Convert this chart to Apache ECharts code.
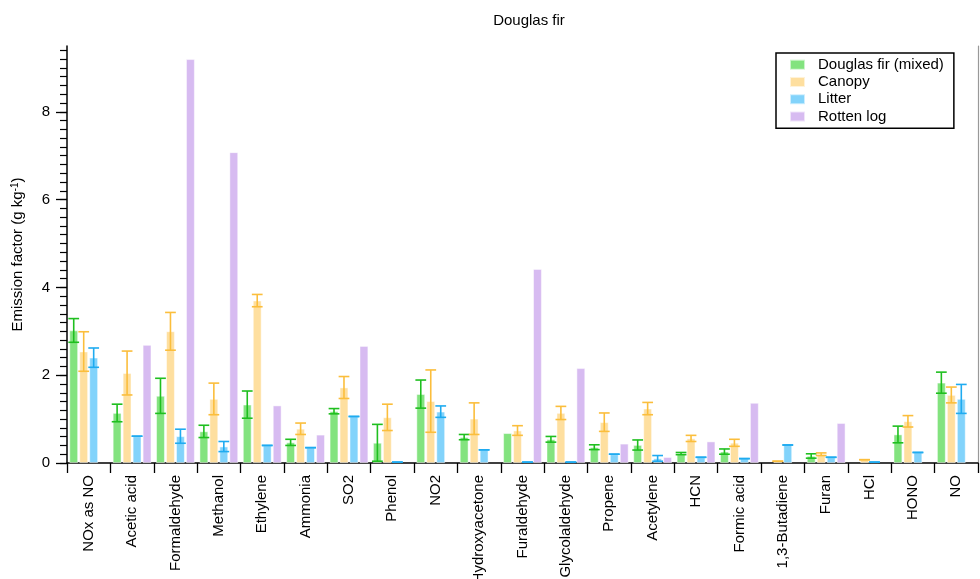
<!DOCTYPE html>
<html>
<head>
<meta charset="utf-8">
<script src="https://cdn.jsdelivr.net/npm/echarts@6/dist/echarts.min.js"></script>
<style>
html,body{margin:0;padding:0;background:#fff;}
#chart{width:980px;height:579px;}
</style>
</head>
<body>
<div id="chart"></div>
<script>
var categories = ['NOx as NO','Acetic acid','Formaldehyde','Methanol','Ethylene','Ammonia','SO2','Phenol','NO2','Hydroxyacetone','Furaldehyde','Glycolaldehyde','Propene','Acetylene','HCN','Formic acid','1,3-Butadiene','Furan','HCl','HONO','NO'];

var seriesNames = ['Douglas fir (mixed)','Canopy','Litter','Rotten log'];

var mixedValues = [3.02,1.14,1.53,0.72,1.33,0.47,1.18,0.46,1.57,0.59,0.68,0.54,0.36,0.41,0.215,0.26,null,0.16,null,0.65,1.83];
var mixedErrors = [0.27,0.20,0.40,0.14,0.31,0.07,0.06,0.42,0.32,0.06,null,0.065,0.055,0.115,0.025,0.06,null,0.05,null,0.19,0.24];

var canopyValues = [2.54,2.05,3.00,1.46,3.70,0.78,1.72,1.04,1.41,1.01,0.74,1.14,0.93,1.24,0.56,0.46,0.04,0.20,0.075,0.95,1.55];
var canopyErrors = [0.45,0.50,0.43,0.36,0.14,0.13,0.25,0.30,0.71,0.36,0.11,0.15,0.21,0.14,0.07,0.08,0,0.03,0,0.13,0.18];

var litterValues = [2.40,0.61,0.61,0.375,0.40,0.35,1.06,0.02,1.17,0.30,0.02,0.02,0.20,0.105,0.13,0.10,0.41,0.13,0.02,0.24,1.46];
var litterErrors = [0.22,0,0.16,0.115,0,0,0,0,0.13,0,0,0,0,0.065,0,0,0,0,0,0,0.33];

var rottenValues = [null,2.69,9.20,7.08,1.31,0.645,2.665,null,null,null,4.42,2.16,0.44,0.135,0.49,1.37,null,0.91,null,null,null];

var yTickLabels = [0,2,4,6,8];
var yMinorStep = 0.2;
var yMax = 9.5;

var fillColors = ['#83e37f','#fedf9f','#82d3fb','#d7bbf1'];
var errColors = ['#1fbf1f','#fbbe3c','#1fabf0','#b58ae0'];

var valueSets = [mixedValues, canopyValues, litterValues, rottenValues];
var errorSets = [mixedErrors, canopyErrors, litterErrors, null];

var minorTicks = [];
for (var k = 0; k <= Math.round(yMax / yMinorStep); k++) {
  var t = +(k * yMinorStep).toFixed(2);
  if (t <= yMax) minorTicks.push(t);
}

var BAR_FRAC = 0.2, GAP_FRAC = 0.15;

function makeErrorSeries(si) {
  var vals = valueSets[si], errs = errorSets[si];
  var data = [];
  for (var i = 0; i < categories.length; i++) {
    if (vals[i] != null && errs[i] != null) data.push([i, vals[i], errs[i]]);
  }
  return {
    type: 'custom',
    name: seriesNames[si] + ' err',
    z: 10,
    silent: true,
    renderItem: function (params, api) {
      var idx = api.value(0), v = api.value(1), e = api.value(2);
      var band = api.size([1, 0])[0];
      var w = band * BAR_FRAC, g = w * GAP_FRAC;
      var total = 4 * w + 3 * g;
      var off = -total / 2 + si * (w + g) + w / 2;
      var top = api.coord([idx, v + e]);
      var bot = api.coord([idx, Math.max(0, v - e)]);
      var x = top[0] + off;
      var hw = w * 0.62;
      var style = { stroke: errColors[si], lineWidth: 1.6, fill: null };
      return {
        type: 'group',
        children: [
          { type: 'line', shape: { x1: x, y1: top[1], x2: x, y2: bot[1] }, style: style },
          { type: 'line', shape: { x1: x - hw, y1: top[1], x2: x + hw, y2: top[1] }, style: style },
          { type: 'line', shape: { x1: x - hw, y1: bot[1], x2: x + hw, y2: bot[1] }, style: style }
        ]
      };
    },
    encode: { x: 0, y: 1 },
    data: data
  };
}

var series = [];
for (var s = 0; s < 4; s++) {
  series.push({
    type: 'bar',
    name: seriesNames[s],
    data: valueSets[s],
    barWidth: (BAR_FRAC * 100) + '%',
    barGap: (GAP_FRAC * 100) + '%',
    itemStyle: { color: fillColors[s], borderColor: 'rgba(255,255,255,0.6)', borderWidth: 0.8 },
    emphasis: { disabled: true }
  });
}
for (var s2 = 0; s2 < 3; s2++) series.push(makeErrorSeries(s2));

var chart = echarts.init(document.getElementById('chart'), null, { renderer: 'canvas' });
chart.setOption({
  animation: false,
  backgroundColor: '#fff',
  textStyle: { fontFamily: 'Liberation Sans, Arial, sans-serif' },
  title: {
    text: 'Douglas fir',
    left: 524, textAlign: 'center', top: 8,
    textStyle: { fontSize: 15, fontWeight: 'normal', color: '#000', fontFamily: 'Liberation Sans' }
  },
  legend: {
    data: seriesNames,
    orient: 'vertical',
    left: 776, top: 53,
    width: 180,
    itemWidth: 15, itemHeight: 10,
    itemGap: 2,
    padding: [4, 10, 4, 13],
    borderColor: '#000', borderWidth: 1.5,
    icon: 'rect',
    textStyle: { fontSize: 15, color: '#000', fontFamily: 'Liberation Sans', lineHeight: 15.3, padding: [0, 0, 0, 8] },
    selectedMode: false
  },
  grid: { left: 67, right: 2, top: 46, bottom: 116, containLabel: false, outerBoundsMode: 'none' },
  xAxis: [{
    type: 'category',
    data: categories,
    boundaryGap: true,
    axisLine: { lineStyle: { color: '#000', width: 1.5 } },
    axisTick: { show: true, length: 10, lineStyle: { color: '#000', width: 1.3 } },
    axisLabel: { rotate: 90, fontSize: 15, color: '#000', margin: 12, fontFamily: 'Liberation Sans', interval: 0 },
    splitLine: { show: false }
  }],
  yAxis: [{
    type: 'value',
    min: 0, max: yMax,
    position: 'left',
    axisLine: { show: true, lineStyle: { color: '#000', width: 1.5 } },
    axisTick: { show: true, length: 11, customValues: yTickLabels, lineStyle: { color: '#000', width: 1.3 } },
    axisLabel: { customValues: yTickLabels, fontSize: 15, color: '#000', margin: 17, fontFamily: 'Liberation Sans' },
    splitLine: { show: false },
    name: 'Emission factor (g kg{sup|-1})',
    nameLocation: 'middle',
    nameGap: 42,
    nameRotate: 90,
    nameTextStyle: { fontSize: 15, color: '#000', fontFamily: 'Liberation Sans',
      rich: { sup: { fontSize: 10, verticalAlign: 'top', lineHeight: 10, color: '#000', fontFamily: 'Liberation Sans', padding: [0,0,6,0] } } }
  }, {
    type: 'value',
    min: 0, max: yMax,
    position: 'left',
    offset: 0,
    axisLine: { show: false },
    axisTick: { show: true, length: 7, customValues: minorTicks, lineStyle: { color: '#000', width: 1.2 } },
    axisLabel: { show: false },
    splitLine: { show: false }
  }, {
    type: 'value',
    min: 0, max: yMax,
    position: 'right',
    axisLine: { show: true, lineStyle: { color: '#999', width: 1.2 } },
    axisTick: { show: false },
    axisLabel: { show: false },
    splitLine: { show: false }
  }],
  series: series
});
</script>
</body>
</html>
